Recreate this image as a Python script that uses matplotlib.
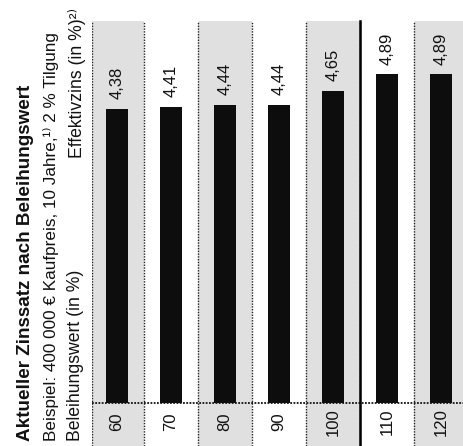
import matplotlib
matplotlib.use("Agg")
import matplotlib.pyplot as plt
from matplotlib.patches import Rectangle

# Daten
beleihung = ["60", "70", "80", "90", "100", "110", "120"]
effektivzins = [4.38, 4.41, 4.44, 4.44, 4.65, 4.89, 4.89]
labels = ["4,38", "4,41", "4,44", "4,44", "4,65", "4,89", "4,89"]

fam = ["Liberation Sans Narrow", "Liberation Sans", "DejaVu Sans"]
plt.rcParams["font.family"] = fam

W, H = 464, 446
fig = plt.figure(figsize=(W / 100, H / 100), dpi=100)

# Achse in Pixeln: links 92, rechts 464, ganze Hoehe
L = 92
ax = fig.add_axes([L / W, 0, (W - L) / W, 1])
px = 67.2  # Pixel pro Prozentpunkt
xmin = (L - 117) / 54
xmax = (W - 117) / 54
ax.set_xlim(xmin, xmax)
ax.set_ylim(-43 / px, 403 / px)
ax.axis("off")

top = (403 - 21) / px
# graue Streifen fuer 60, 80, 100, 120
for i in range(0, len(beleihung), 2):
    x0 = max(i - 0.5, xmin)
    x1 = min(i + 0.5, xmax)
    ax.add_patch(Rectangle((x0, -43 / px), x1 - x0, top + 43 / px,
                           facecolor="#e0e0e0", edgecolor="none", zorder=0))
    for xx in (x0, x1):
        if xx < xmax - 0.01:
            ax.plot([xx, xx], [-43 / px, top], color="#222222", lw=1.0,
                    ls=(0, (1, 1)), zorder=1)

# Grundlinie
ax.plot([xmin, xmax], [0, 0], color="#111111", lw=1.3, ls=(0, (1, 0.8)), zorder=3)

# durchgezogene Linie zwischen 100 und 110
ax.plot([4.5, 4.5], [-43 / px, top], color="black", lw=1.8, zorder=3)

xs = list(range(len(beleihung)))
ax.bar(xs, effektivzins, width=0.4, color="#0d0d0d", zorder=2)

for x, v, lab in zip(xs, effektivzins, labels):
    ax.text(x, v + 0.14, lab, rotation=90, ha="center", va="bottom",
            fontsize=12, color="#111111")
    ax.text(x, -19 / px, beleihung[x], rotation=90, ha="center",
            va="center", fontsize=12, color="#111111")

# Ueberschriften (gedreht)
fig.text(26 / W, 1 - 441 / H, "Aktueller Zinssatz nach Beleihungswert",
         rotation=90, ha="center", va="bottom", fontsize=13.6,
         fontweight="bold", color="#111111")
fig.text(51 / W, 1 - 441 / H,
         "Beispiel: 400 000 € Kaufpreis, 10 Jahre,¹⁾ 2 % Tilgung",
         rotation=90, ha="center", va="bottom", fontsize=12.35, color="#111111")
fig.text(76 / W, 1 - 441 / H, "Beleihungswert (in %)",
         rotation=90, ha="center", va="bottom", fontsize=12.7, color="#111111")
fig.text(77 / W, 1 - 8 / H, "Effektivzins (in %)²⁾",
         rotation=90, ha="center", va="top", fontsize=12.7, color="#111111")

fig.savefig("out.png", dpi=100)
